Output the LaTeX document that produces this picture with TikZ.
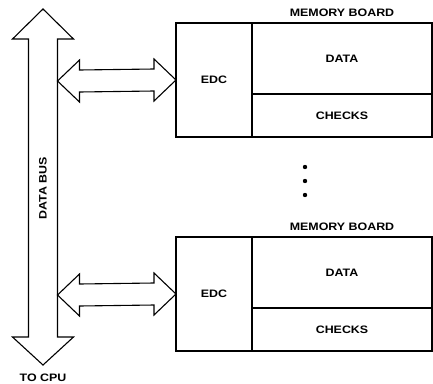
\documentclass[tikz,border=0pt]{standalone}
\usepackage{fontspec}
\setmainfont{Liberation Sans}
\newfontfamily\boardfont{Liberation Sans}[FakeStretch=1.15]
\usetikzlibrary{calc,positioning}
\tikzset{
  part/.style={
    draw,
    line width = 1.7pt,
    outer sep = 0pt,
    inner sep = 0pt,
    font = \boardfont\bfseries\fontsize{10.8}{12}\selectfont
  },
  lbl/.style={
    inner sep = 0pt,
    font = \boardfont\bfseries\fontsize{10.8}{12}\selectfont
  },
  fatarrow/.style={
    draw,
    line width = 1.1pt,
    line join = miter
  },
  dot/.style={
    shape = circle,
    fill,
    inner sep = 0pt,
    minimum size = 4.4pt
  },
}

\begin{document}
\begin{tikzpicture}[x=1pt,y=-1pt]
    \useasboundingbox (0,0) rectangle (433,383);
    % data bus
    \coordinate (bustop) at (43,9);
    \coordinate (buscpu) at (43,365);
    \draw[fatarrow] (bustop) -- ++(30.5,30) -- ++(-16,0) -- ++(0,298) -- ++(16,0)
      -- (buscpu) -- ++(-30.5,-28) -- ++(16,0) -- ++(0,-298) -- ++(-16,0) -- cycle;
    \node[lbl, rotate=90] (bus) at (43,188) {DATA BUS};
    \node[lbl, below=9pt of buscpu] (cpu) {TO CPU};
      \foreach \off/\n in {0/1,214/2}{
        \node[part, minimum width=76pt, minimum height=114pt, anchor=north west]
          (edc\n) at (176,23+\off) {EDC};
        \node[part, minimum width=180pt, minimum height=71pt, anchor=north west]
          (data\n) at (edc\n.north east) {DATA};
        \node[part, minimum width=180pt, minimum height=43pt, anchor=north west]
          (checks\n) at (data\n.south west) {CHECKS};
        \node[lbl, above=6pt of data\n] (board\n) {MEMORY BOARD};
        \coordinate (port\n) at (57.5,81+\off);
        \draw[fatarrow] (port\n) -- ++(22,-21) -- ++(0,10) -- ($(edc\n.west)+(-22,-11)$)
          -- ++(0,-10) -- (edc\n.west) -- ++(-22,21) -- ++(0,-10)
          -- ($(port\n)+(22,11)$) -- ++(0,10) -- cycle;
      }
    \foreach \y in {167,181,195}{
      \node[dot] at (305,\y) {};
    }
\end{tikzpicture}
\end{document}
